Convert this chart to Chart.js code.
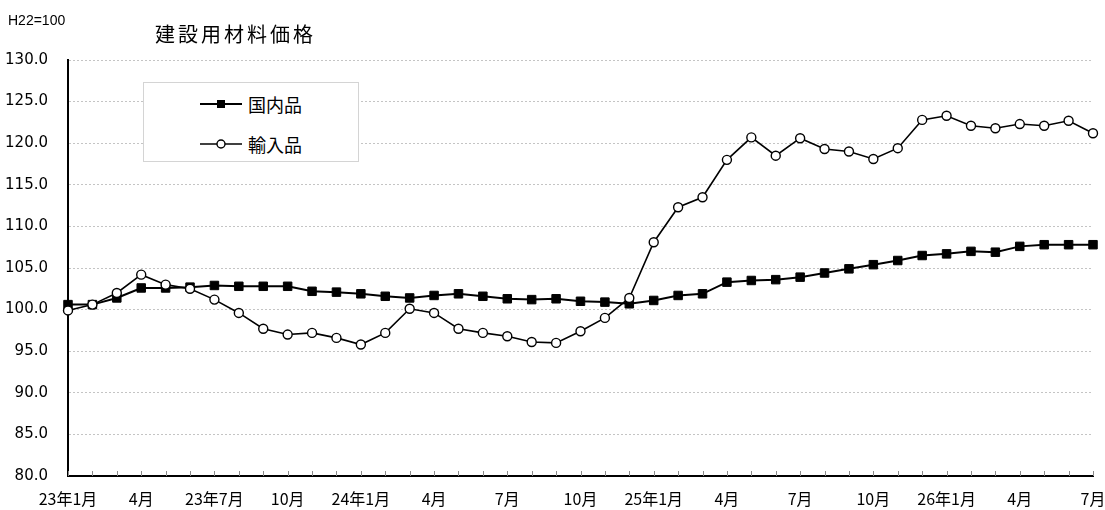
<!DOCTYPE html>
<html>
<head>
<meta charset="utf-8">
<script src="https://cdn.jsdelivr.net/npm/chart.js@4/dist/chart.umd.min.js"></script>
<style>
  html, body { margin: 0; padding: 0; background: #fff; }
  #wrap { position: relative; width: 1105px; height: 510px; }
  canvas { position: absolute; left: 0; top: 0; }
  #unit { position: absolute; left: 8px; top: 12px; font: 14px "Liberation Sans", Arial, sans-serif; line-height: 16px; color: #000; }
  #title { position: absolute; left: 155px; top: 22px; font: 20px "Noto Sans CJK JP", sans-serif; line-height: 24px; letter-spacing: 3px; color: #000; }
  #legend { position: absolute; left: 143px; top: 82px; width: 214px; height: 78px; border: 1px solid #d4d4d4; background: #fff; }
  .item { position: absolute; left: 56px; height: 24px; display: flex; align-items: center; font: 18px "Noto Sans CJK JP", sans-serif; color: #000; }
  .item svg { margin-right: 6px; }
</style>
</head>
<body>
<div id="wrap">
  <canvas id="c" width="1105" height="510"></canvas>
  <div id="unit">H22=100</div>
  <div id="title">建設用材料価格</div>
  <div id="legend">
    <div class="item" style="top:9px">
      <svg width="42" height="12"><line x1="0" y1="6" x2="42" y2="6" stroke="#000" stroke-width="2"/><rect x="17" y="2" width="8" height="8" fill="#000"/></svg><span id="lg0"></span>
    </div>
    <div class="item" style="top:49px">
      <svg width="42" height="12"><line x1="0" y1="6" x2="42" y2="6" stroke="#000" stroke-width="1.6"/><circle cx="21" cy="6" r="4" fill="#fff" stroke="#000" stroke-width="1.4"/></svg><span id="lg1"></span>
    </div>
  </div>
</div>
<script>
// ---- data ----
const categories = [
  "23年1月","23年2月","23年3月","23年4月","23年5月","23年6月","23年7月","23年8月","23年9月","23年10月","23年11月","23年12月",
  "24年1月","24年2月","24年3月","24年4月","24年5月","24年6月","24年7月","24年8月","24年9月","24年10月","24年11月","24年12月",
  "25年1月","25年2月","25年3月","25年4月","25年5月","25年6月","25年7月","25年8月","25年9月","25年10月","25年11月","25年12月",
  "26年1月","26年2月","26年3月","26年4月","26年5月","26年6月","26年7月"
];
const tickLabels = ["23年1月","4月","23年7月","10月","24年1月","4月","7月","10月","25年1月","4月","7月","10月","26年1月","4月","7月"];
const seriesNames = ["国内品", "輸入品"];
const domestic = [100.6,100.6,101.4,102.6,102.6,102.7,102.9,102.8,102.8,102.8,102.2,102.1,
                  101.9,101.6,101.4,101.7,101.9,101.6,101.3,101.2,101.3,101.0,100.9,100.7,
                  101.1,101.7,101.9,103.3,103.5,103.6,103.9,104.4,104.9,105.4,105.9,106.5,
                  106.7,107.0,106.9,107.6,107.8,107.8,107.8];
const imported = [99.9,100.6,102.0,104.2,103.0,102.5,101.2,99.6,97.7,97.0,97.2,96.6,
                  95.8,97.2,100.1,99.6,97.7,97.2,96.8,96.1,96.0,97.4,99.0,101.4,
                  108.1,112.3,113.5,118.0,120.7,118.5,120.6,119.3,119.0,118.1,119.4,122.8,
                  123.3,122.1,121.8,122.3,122.1,122.7,121.2];
const yMin = 80, yMax = 130, yStep = 5;

document.getElementById('lg0').textContent = seriesNames[0];
document.getElementById('lg1').textContent = seriesNames[1];

const innerTicks = {
  id: 'innerTicks',
  afterDatasetsDraw(chart) {
    const x = chart.scales.x, ctx = chart.ctx, b = chart.chartArea.bottom;
    ctx.save();
    ctx.strokeStyle = '#8a8a8a';
    ctx.lineWidth = 1;
    for (let i = 0; i < categories.length; i++) {
      const px = Math.round(x.getPixelForValue(i)) + 0.5;
      ctx.beginPath(); ctx.moveTo(px, b); ctx.lineTo(px, b - 5); ctx.stroke();
    }
    ctx.restore();
  }
};

new Chart(document.getElementById('c'), {
  type: 'line',
  data: {
    labels: categories,
    datasets: [
      { label: seriesNames[0], data: domestic, borderColor: '#000', backgroundColor: '#000',
        borderWidth: 2, pointStyle: 'rect', pointRadius: 6, pointBorderWidth: 1,
        pointBackgroundColor: '#000', pointBorderColor: '#000', tension: 0, order: 2 },
      { label: seriesNames[1], data: imported, borderColor: '#000', backgroundColor: '#fff',
        borderWidth: 1.6, pointStyle: 'circle', pointRadius: 4.5, pointBorderWidth: 1.4,
        pointBackgroundColor: '#fff', pointBorderColor: '#000', tension: 0, order: 1 }
    ]
  },
  options: {
    responsive: false,
    animation: false,
    layout: { padding: { left: 0, top: 60, right: 0, bottom: 0 } },
    plugins: { legend: { display: false }, tooltip: { enabled: false }, title: { display: false } },
    scales: {
      x: {
        type: 'category',
        offset: false,
        grid: { display: false, drawTicks: false },
        border: { display: true, color: '#000', width: 2 },
        ticks: {
          autoSkip: false, maxRotation: 0, minRotation: 0, padding: 13, color: '#000',
          font: { family: '"Noto Sans CJK JP", sans-serif', size: 16 },
          callback: (v, i) => (i % 3 === 0 ? tickLabels[i / 3] : '')
        },
        afterFit: (s) => { s.height = 34; s.paddingRight = 12; s.paddingLeft = 0; }
      },
      y: {
        min: yMin, max: yMax,
        grid: { color: '#c4c4c4', lineWidth: 1, drawTicks: false },
        border: { display: true, color: '#000', width: 2, dash: [2, 2] },
        ticks: {
          stepSize: yStep, padding: 20, color: '#000',
          font: { family: '"DejaVu Sans", sans-serif', size: 15 },
          callback: (v) => Number(v).toFixed(1)
        },
        afterFit: (s) => { s.width = 68; }
      }
    }
  },
  plugins: [innerTicks]
});
</script>
</body>
</html>
